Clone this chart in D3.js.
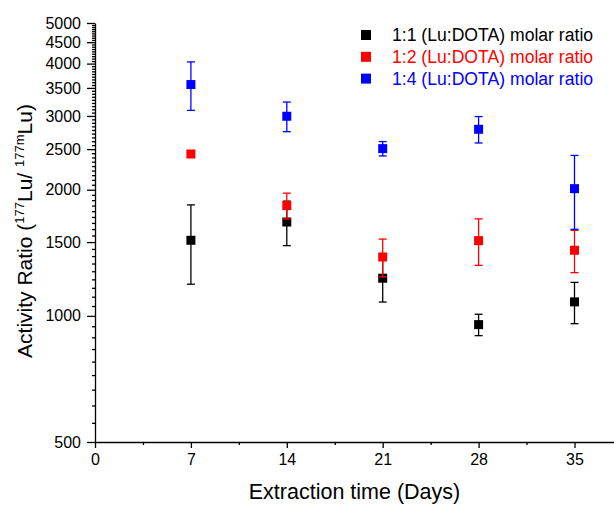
<!DOCTYPE html>
<html>
<head>
<meta charset="utf-8">
<script src="https://cdn.jsdelivr.net/npm/d3@7"></script>
<style>
  body { margin: 0; background: #fff; }
  svg { display: block; font-family: "Liberation Sans", Arial, sans-serif; }
  .axis path, .axis line { stroke: #000; stroke-width: 1.3; }
  .axis text { fill: #000; font-size: 16px; font-family: "Liberation Sans", Arial, sans-serif; }
</style>
</head>
<body>
<div id="chart"></div>
<script>
// Activity ratio vs extraction time (log y axis)

const days = [7, 14, 21, 28, 35];

const ratio11 = [1515, 1675, 1230, 953, 1080];
const err11   = [325, 204, 151, 56, 122];

const ratio12 = [2434, 1833, 1382, 1512, 1434];
const err12   = [40, 130, 143, 192, 166];

const ratio14 = [3565, 2995, 2507, 2788, 2012];
const err14   = [472, 243, 99, 202, 403];

const seriesNames = [
    "1:1 (Lu:DOTA) molar ratio",
    "1:2 (Lu:DOTA) molar ratio",
    "1:4 (Lu:DOTA) molar ratio"
];
const seriesColors = ["#000000", "#ff0000", "#0000ff"];

const xTicks = [0, 7, 14, 21, 28, 35];
const yTicks = [500, 1000, 1500, 2000, 2500, 3000, 3500, 4000, 4500, 5000];

const width = 614, height = 506;

const svg = d3.select("#chart").append("svg")
    .attr("width", width)
    .attr("height", height);

const x = d3.scaleLinear().domain([0, 38]).range([95, 615.6]);
const y = d3.scaleLog().domain([500, 5000]).range([442, 23]);

// minor ticks: x every 3.5 days, y 8 per major interval
const xMinor = xTicks.map(d => d + 3.5);
const yMinor = [];
yTicks.slice(0, -1).forEach(t => {
    for (let k = 1; k <= 8; k++) yMinor.push(t + k * 500 / 9);
});

// x axis
svg.append("g")
    .attr("class", "axis")
    .attr("transform", `translate(0,${y(500)})`)
    .call(d3.axisBottom(x).tickValues(xMinor).tickSize(3).tickSizeOuter(0).tickFormat(""));
svg.append("g")
    .attr("class", "axis")
    .attr("transform", `translate(0,${y(500)})`)
    .call(d3.axisBottom(x).tickValues(xTicks).tickSize(6).tickSizeOuter(0).tickPadding(6))
    .call(g => g.select(".domain").remove());

// y axis
svg.append("g")
    .attr("class", "axis")
    .attr("transform", `translate(${x(0)},0)`)
    .call(d3.axisLeft(y).tickValues(yMinor).tickSize(3).tickSizeOuter(0).tickFormat(""));
svg.append("g")
    .attr("class", "axis")
    .attr("transform", `translate(${x(0)},0)`)
    .call(d3.axisLeft(y).tickValues(yTicks).tickSize(8).tickSizeOuter(0).tickPadding(6)
        .tickFormat(d3.format("d")))
    .call(g => g.select(".domain").remove());

// axis titles
svg.append("text")
    .attr("x", (x(0) + width) / 2)
    .attr("y", 499)
    .attr("text-anchor", "middle")
    .style("font-size", "21.5px")
    .text("Extraction time (Days)");

const yTitle = svg.append("text")
    .attr("transform", "translate(32,231) rotate(-90)")
    .attr("text-anchor", "middle")
    .style("font-size", "21px");
yTitle.append("tspan").text("Activity Ratio (");
yTitle.append("tspan").attr("dy", -8).style("font-size", "13px").text("177");
yTitle.append("tspan").attr("dy", 8).text("Lu/ ");
yTitle.append("tspan").attr("dy", -8).style("font-size", "13px").text("177m");
yTitle.append("tspan").attr("dy", 8).text("Lu)");

// data series
const series = [
    { name: seriesNames[0], color: seriesColors[0], values: ratio11, errors: err11 },
    { name: seriesNames[1], color: seriesColors[1], values: ratio12, errors: err12 },
    { name: seriesNames[2], color: seriesColors[2], values: ratio14, errors: err14 }
];

const markerSize = 9, capHalf = 4;

series.forEach(s => {
    const pts = days.map((d, i) => ({ day: d, v: s.values[i], e: s.errors[i] }));
    const g = svg.append("g");

    const eb = g.selectAll(".err").data(pts).enter().append("g")
        .attr("stroke", s.color)
        .attr("stroke-width", 1.3);
    eb.append("line")
        .attr("x1", d => x(d.day)).attr("x2", d => x(d.day))
        .attr("y1", d => y(d.v + d.e)).attr("y2", d => y(d.v - d.e));
    eb.append("line")
        .attr("x1", d => x(d.day) - capHalf).attr("x2", d => x(d.day) + capHalf)
        .attr("y1", d => y(d.v + d.e)).attr("y2", d => y(d.v + d.e));
    eb.append("line")
        .attr("x1", d => x(d.day) - capHalf).attr("x2", d => x(d.day) + capHalf)
        .attr("y1", d => y(d.v - d.e)).attr("y2", d => y(d.v - d.e));

    g.selectAll(".pt").data(pts).enter().append("rect")
        .attr("x", d => x(d.day) - markerSize / 2)
        .attr("y", d => y(d.v) - markerSize / 2)
        .attr("width", markerSize)
        .attr("height", markerSize)
        .attr("fill", s.color);
});

// legend
const legend = svg.append("g");
series.forEach((s, i) => {
    const cy = 35 + i * 21.8;
    legend.append("rect")
        .attr("x", 366 - 5).attr("y", cy - 5)
        .attr("width", 10).attr("height", 10)
        .attr("fill", s.color);
    legend.append("text")
        .attr("x", 392).attr("y", cy + 6)
        .attr("fill", s.color)
        .style("font-size", "17.6px")
        .text(s.name);
});
</script>
</body>
</html>
